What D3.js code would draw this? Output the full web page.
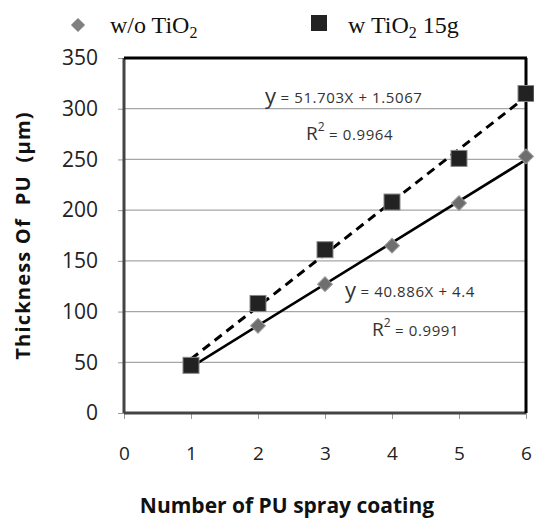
<!DOCTYPE html>
<html>
<head>
<meta charset="utf-8">
<script src="https://cdn.jsdelivr.net/npm/d3@7"></script>
<style>
  body { margin: 0; background: #fff; }
</style>
</head>
<body>
<svg width="534" height="520" id="mainsvg"></svg>
<script>
// data
const coats = [1, 2, 3, 4, 5, 6];
const withoutTiO2 = [47, 86, 127, 165, 207, 253];
const withTiO2 = [47, 108, 161, 208, 251, 315];
const fitWithout = {slope: 40.886, intercept: 4.4};
const fitWith = {slope: 51.703, intercept: 1.5067};
const yTicks = [0, 50, 100, 150, 200, 250, 300, 350];
const xTicks = [0, 1, 2, 3, 4, 5, 6];

const svg = d3.select('#mainsvg');
const plot = {left: 124, right: 526, top: 58, bottom: 413};

const x = d3.scaleLinear().domain([0, 6]).range([plot.left, plot.right]);
const y = d3.scaleLinear().domain([0, 350]).range([plot.bottom, plot.top]);

const sans = 'Open Sans, DejaVu Sans, sans-serif';
const serif = 'Liberation Serif, Times New Roman, serif';

// gridlines
svg.append('g').selectAll('line')
  .data(yTicks.filter(d => d > 0 && d < 350)).join('line')
  .attr('x1', plot.left).attr('x2', plot.right)
  .attr('y1', d => y(d)).attr('y2', d => y(d))
  .attr('stroke', '#a6a6a6').attr('stroke-width', 1.2);

// axes
const yAxis = svg.append('g').attr('transform', `translate(${plot.left},0)`)
  .call(d3.axisLeft(y).tickValues(yTicks).tickSize(6).tickPadding(20));
const xAxis = svg.append('g').attr('transform', `translate(0,${plot.bottom})`)
  .call(d3.axisBottom(x).tickValues(xTicks).tickFormat(d3.format('d')).tickSize(6).tickPadding(28));
[yAxis, xAxis].forEach(g => {
  g.select('.domain').remove();
  g.selectAll('line').attr('stroke', '#999');
  g.selectAll('text').attr('font-family', sans).attr('fill', '#222');
});
yAxis.selectAll('text').attr('font-size', 21);
xAxis.selectAll('text').attr('font-size', 19);

// plot frame
svg.append('line').attr('x1', plot.left).attr('x2', plot.left).attr('y1', plot.top).attr('y2', plot.bottom)
  .attr('stroke', '#444').attr('stroke-width', 3);
svg.append('line').attr('x1', plot.left).attr('x2', plot.right).attr('y1', plot.bottom).attr('y2', plot.bottom)
  .attr('stroke', '#444').attr('stroke-width', 3);
svg.append('line').attr('x1', plot.left).attr('x2', plot.right + 1).attr('y1', plot.top).attr('y2', plot.top)
  .attr('stroke', '#000').attr('stroke-width', 3);
svg.append('line').attr('x1', plot.right).attr('x2', plot.right).attr('y1', plot.top).attr('y2', plot.bottom)
  .attr('stroke', '#000').attr('stroke-width', 3);

// trend lines
const trend = f => [1, 6].map(v => [x(v), y(f.slope * v + f.intercept)]);
svg.append('path').attr('d', d3.line()(trend(fitWith)))
  .attr('stroke', '#000').attr('stroke-width', 3).attr('fill', 'none')
  .attr('stroke-dasharray', '9,6');
svg.append('path').attr('d', d3.line()(trend(fitWithout)))
  .attr('stroke', '#000').attr('stroke-width', 2.6).attr('fill', 'none');

// markers
const diamond = d3.symbol().type(d3.symbolSquare).size(110);
svg.append('g').selectAll('path')
  .data(coats.map((c, i) => [c, withoutTiO2[i]])).join('path')
  .attr('d', diamond)
  .attr('transform', d => `translate(${x(d[0])},${y(d[1])}) rotate(45)`)
  .attr('fill', '#6e6e6e').attr('stroke', '#999').attr('stroke-width', 1);
svg.append('g').selectAll('rect')
  .data(coats.map((c, i) => [c, withTiO2[i]])).join('rect')
  .attr('x', d => x(d[0]) - 8).attr('y', d => y(d[1]) - 8)
  .attr('width', 16).attr('height', 16)
  .attr('fill', '#222').attr('stroke', '#888').attr('stroke-width', 1);

// equations
function equation(cx, cy, slope, intercept, r2x, r2y, r2) {
  const t = svg.append('text').attr('x', cx).attr('y', cy)
    .attr('font-family', sans).attr('fill', '#333');
  t.append('tspan').attr('font-size', 22).text('y');
  t.append('tspan').attr('font-size', 15).attr('dy', -1).attr('letter-spacing', 0.6)
    .text(` = ${slope}X + ${intercept}`);
  const r = svg.append('text').attr('x', r2x).attr('y', r2y)
    .attr('font-family', sans).attr('fill', '#333');
  r.append('tspan').attr('font-size', 19).text('R');
  r.append('tspan').attr('font-size', 12).attr('dy', -9).text('2');
  r.append('tspan').attr('font-size', 15).attr('dy', 9).attr('letter-spacing', 0.6).text(` = ${r2}`);
}
equation(265, 104, fitWith.slope, fitWith.intercept, 306, 140, '0.9964');
equation(345, 298, fitWithout.slope, fitWithout.intercept, 372, 336, '0.9991');

// legend
svg.append('path').attr('d', d3.symbol().type(d3.symbolSquare).size(100))
  .attr('transform', 'translate(78,25) rotate(45)').attr('fill', '#808080');
const l1 = svg.append('text').attr('x', 110).attr('y', 33)
  .attr('font-family', serif).attr('font-size', 24).attr('fill', '#111');
l1.append('tspan').text('w/o TiO');
l1.append('tspan').attr('font-size', 16).attr('dy', 5).text('2');

svg.append('rect').attr('x', 311).attr('y', 15).attr('width', 16).attr('height', 16)
  .attr('fill', '#222');
const l2 = svg.append('text').attr('x', 348).attr('y', 33)
  .attr('font-family', serif).attr('font-size', 24).attr('fill', '#111');
l2.append('tspan').text('w TiO');
l2.append('tspan').attr('font-size', 16).attr('dy', 5).text('2');
l2.append('tspan').attr('dy', -5).text(' 15g');

// axis titles
svg.append('text').attr('transform', `translate(30,${(plot.top + plot.bottom) / 2}) rotate(-90)`)
  .attr('text-anchor', 'middle').attr('font-family', sans).attr('font-weight', 'bold')
  .attr('font-size', 20).attr('letter-spacing', 1.2).attr('fill', '#111')
  .attr('xml:space', 'preserve').text('Thickness Of  PU  (µm)');
svg.append('text').attr('x', 287).attr('y', 513)
  .attr('text-anchor', 'middle').attr('font-family', sans).attr('font-weight', 'bold')
  .attr('font-size', 21).attr('fill', '#111').text('Number of PU spray coating');
</script>
</body>
</html>
